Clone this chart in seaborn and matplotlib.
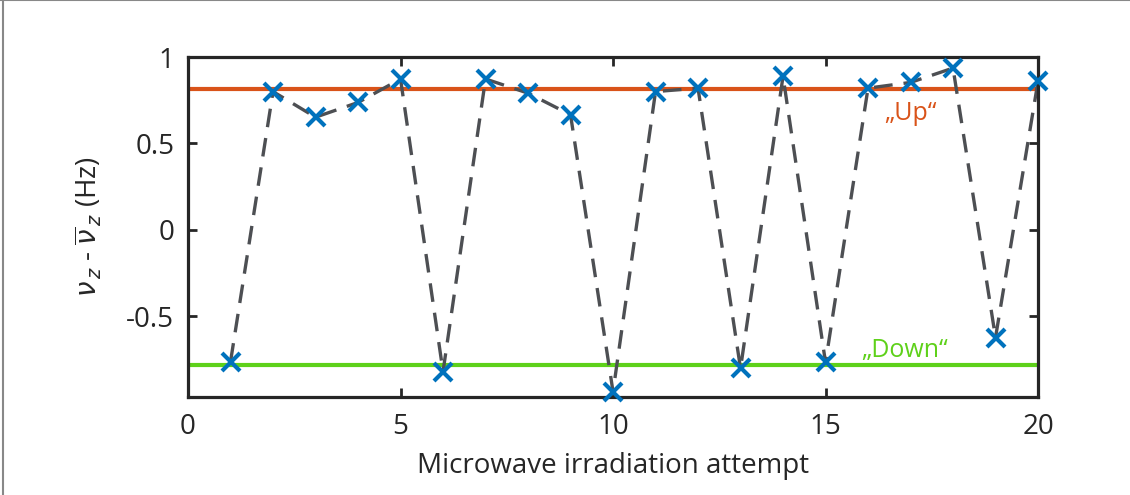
import numpy as np
import pandas as pd
import seaborn as sns
import matplotlib.pyplot as plt
from matplotlib.lines import Line2D

sns.set_style("ticks")
plt.rcParams['font.family'] = ['Open Sans', 'DejaVu Sans']
plt.rcParams['mathtext.fontset'] = 'dejavusans'

# values
attempt = list(range(1, 21))
delta_nu = [-0.762, 0.80, 0.652, 0.737, 0.873, -0.82, 0.873, 0.791, 0.666, -0.936,
            0.80, 0.82, -0.801, 0.888, -0.767, 0.82, 0.853, 0.936, -0.623, 0.859]
up_level = 0.815
down_level = -0.782
state_labels = ['\u201eUp\u201c', '\u201eDown\u201c']

blue = '#0072BD'
orange = '#D95319'
green = '#5ED11A'
grey = '#4D4F53'
axcol = '#262626'

df = pd.DataFrame({'attempt': attempt, 'delta': delta_nu})

fig = plt.figure(figsize=(11.3, 4.95), dpi=100)
ax = fig.add_axes([0.1664, 0.1986, 0.7522, 0.6862])

# Up / Down levels
ax.axhline(up_level, color=orange, lw=3, zorder=1)
ax.axhline(down_level, color=green, lw=3, zorder=1)

# measurements
sns.lineplot(data=df, x='attempt', y='delta', ax=ax, color=grey, lw=2.4,
             dashes=False, zorder=2)
ax.lines[-1].set_dashes((5.6, 3.3))
ax.plot(df['attempt'], df['delta'], ls='none', marker='x', ms=12.5, mew=3,
        color=blue, zorder=3, clip_on=False)

ax.text(17.0, 0.676, state_labels[0], color=orange, fontsize=18,
        ha='center', va='center')
ax.text(16.87, -0.695, state_labels[1], color=green, fontsize=18,
        ha='center', va='center')

ax.set_xlim(0, 20)
ax.set_ylim(-0.965, 1)
ax.set_xticks([0, 5, 10, 15, 20])
ax.set_yticks([-0.5, 0, 0.5, 1])
ax.set_yticklabels(['-0.5', '0', '0.5', '1'])
ax.tick_params(direction='in', length=6.5, width=2, colors=axcol,
               labelsize=20, top=True, right=True)
ax.tick_params(axis='y', pad=10)
ax.tick_params(axis='x', pad=12)
for s in ax.spines.values():
    s.set_visible(True)
    s.set_linewidth(2.3)
    s.set_color(axcol)

ax.set_xlabel('Microwave irradiation attempt', fontsize=20, color=axcol, labelpad=8)
ax.set_ylabel(r'$\nu_{\,z}$ - $\overline{\nu}_{\,z}$ (Hz)', fontsize=20,
              color=axcol, labelpad=16)

# outer frame (left and top edge)
fig.add_artist(Line2D([0.003, 0.003], [0, 1], transform=fig.transFigure,
                      color='#888888', lw=1.5))
fig.add_artist(Line2D([0, 1], [0.999, 0.999], transform=fig.transFigure,
                      color='#888888', lw=1.5))

fig.savefig('out.png', dpi=100)
